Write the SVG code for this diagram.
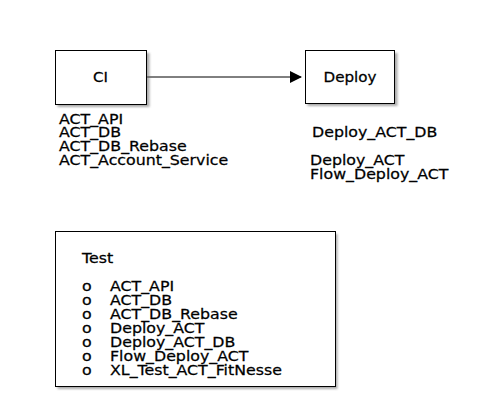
<svg xmlns="http://www.w3.org/2000/svg" width="480" height="420" viewBox="0 0 480 420">
<style>
text{font-family:"DejaVu Sans",sans-serif;font-size:14px;fill:#000;stroke:#000;stroke-width:0.25}
.box{fill:#fff;stroke:#000;stroke-width:1}
.sh{fill:#666;opacity:0.55}
.c{text-anchor:middle}
</style>
<defs>
<marker id="ah" markerWidth="12" markerHeight="12" refX="11" refY="6" orient="auto" markerUnits="userSpaceOnUse">
<path d="M0,0 L12,6 L0,12 Z" fill="#000"/>
</marker>
<filter id="blur" x="-10%" y="-10%" width="130%" height="130%"><feGaussianBlur stdDeviation="1.2"/></filter>
</defs>
<rect width="480" height="420" fill="#fff"/>
<g id="connectors">
<line x1="147" y1="77" x2="301" y2="77" stroke="#000" stroke-width="1" marker-end="url(#ah)"/>
</g>
<g id="ci">
<rect class="sh" x="57.5" y="53" width="92" height="54" filter="url(#blur)"/>
<rect class="box" x="55.5" y="50.5" width="91" height="54"/>
<g transform="matrix(1.08,0,0,1,100.5,0)"><text class="c" x="0" y="82">CI</text></g>
<g transform="matrix(1.13,0,0,1,59,0)">
<text x="0" y="124">ACT_API</text>
<text x="0" y="137.5">ACT_DB</text>
<text x="0" y="151">ACT_DB_Rebase</text>
<text x="0" y="165">ACT_Account_Service</text>
</g>
</g>
<g id="deploy">
<rect class="sh" x="307.5" y="53" width="90" height="53" filter="url(#blur)"/>
<rect class="box" x="305.5" y="50.5" width="89" height="53"/>
<g transform="matrix(1.08,0,0,1,350,0)"><text class="c" x="0" y="82">Deploy</text></g>
<g transform="matrix(1.13,0,0,1,312,0)"><text x="0" y="137">Deploy_ACT_DB</text></g>
<g transform="matrix(1.13,0,0,1,310,0)">
<text x="0" y="165">Deploy_ACT</text>
<text x="0" y="179">Flow_Deploy_ACT</text>
</g>
</g>
<g id="test">
<rect class="sh" x="57.5" y="234" width="280" height="155" filter="url(#blur)"/>
<rect class="box" x="55.5" y="231.5" width="280" height="155"/>
<g transform="matrix(1.13,0,0,1,82,0)">
<text x="0" y="263">Test</text>
<text x="0" y="291">o</text>
<text x="0" y="305">o</text>
<text x="0" y="319">o</text>
<text x="0" y="333">o</text>
<text x="0" y="347">o</text>
<text x="0" y="361">o</text>
<text x="0" y="375">o</text>
</g>
<g transform="matrix(1.13,0,0,1,110,0)">
<text x="0" y="291">ACT_API</text>
<text x="0" y="305">ACT_DB</text>
<text x="0" y="319">ACT_DB_Rebase</text>
<text x="0" y="333">Deploy_ACT</text>
<text x="0" y="347">Deploy_ACT_DB</text>
<text x="0" y="361">Flow_Deploy_ACT</text>
<text x="0" y="375">XL_Test_ACT_FitNesse</text>
</g>
</g>
</svg>
